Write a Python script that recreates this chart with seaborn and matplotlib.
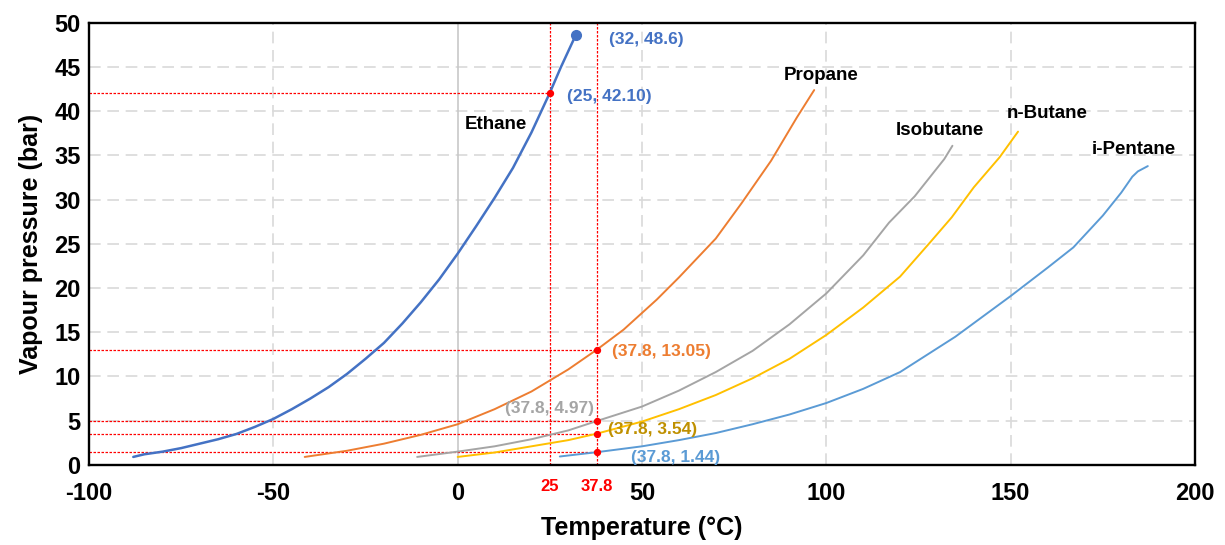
import numpy as np
import pandas as pd
import matplotlib
matplotlib.use("Agg")
import matplotlib.pyplot as plt
import seaborn as sns

# ---- data ----
ethane_t = [-88, -85, -80, -75, -70, -65, -60, -55, -50, -45, -40, -35, -30, -25, -20,
            -15, -10, -5, 0, 5, 10, 15, 20, 25, 28, 32]
ethane_p = [0.9, 1.2, 1.5, 1.9, 2.4, 2.9, 3.5, 4.3, 5.2, 6.3, 7.5, 8.8, 10.3, 12.0, 13.8,
            16.0, 18.4, 21.0, 23.9, 27.0, 30.2, 33.6, 37.6, 42.1, 45.0, 48.6]

propane_t = [-41.5, -30, -20, -10, 0, 10, 20, 30, 37.8, 45, 54, 60, 70, 77, 85, 92, 96.7]
propane_p = [0.9, 1.6, 2.4, 3.4, 4.6, 6.3, 8.3, 10.8, 13.05, 15.3, 18.7, 21.2, 25.6, 29.6, 34.4, 39.3, 42.4]

isobutane_t = [-11, 0, 10, 20, 30, 37.8, 50, 60, 70, 80, 90, 100, 110, 117, 124, 128, 132, 134.2]
isobutane_p = [0.9, 1.5, 2.1, 2.9, 3.9, 4.97, 6.6, 8.4, 10.5, 12.9, 15.9, 19.4, 23.7, 27.4, 30.4, 32.5, 34.6, 36.1]

nbutane_t = [0, 10, 20, 30, 37.8, 50, 60, 70, 80, 90, 100, 110, 120, 128, 134, 140, 147, 152]
nbutane_p = [0.9, 1.4, 2.1, 2.8, 3.54, 4.9, 6.3, 7.9, 9.8, 12.0, 14.7, 17.8, 21.3, 25.1, 28.0, 31.4, 34.8, 37.7]

ipentane_t = [27.7, 37.8, 50, 60, 70, 80, 90, 100, 110, 120, 135, 150, 160, 167, 175, 180, 183, 184.5, 187.2]
ipentane_p = [0.95, 1.44, 2.1, 2.8, 3.6, 4.6, 5.7, 7.0, 8.6, 10.5, 14.5, 19.1, 22.3, 24.6, 28.2, 30.8, 32.6, 33.2, 33.8]

series_names = ["Ethane", "Propane", "Isobutane", "n-Butane", "i-Pentane"]
series_colors = ["#4472C4", "#ED7D31", "#A5A5A5", "#FFC000", "#5B9BD5"]

crit_point = (32, 48.6)
mark_t = [25, 37.8, 37.8, 37.8, 37.8]
mark_p = [42.10, 13.05, 4.97, 3.54, 1.44]
mark_labels = ["(25, 42.10)", "(37.8, 13.05)", "(37.8, 4.97)", "(37.8, 3.54)", "(37.8, 1.44)"]
mark_colors = ["#4472C4", "#ED7D31", "#A5A5A5", "#BF9000", "#5B9BD5"]

x_ticks = [-100, -50, 0, 50, 100, 150, 200]
y_ticks = [0, 5, 10, 15, 20, 25, 30, 35, 40, 45, 50]

# ---- build long table ----
frames = []
for name, t, p in zip(series_names,
                      [ethane_t, propane_t, isobutane_t, nbutane_t, ipentane_t],
                      [ethane_p, propane_p, isobutane_p, nbutane_p, ipentane_p]):
    frames.append(pd.DataFrame({"T": t, "P": p, "fluid": name}))
df = pd.concat(frames, ignore_index=True)

sns.set_theme(style="white")
plt.rcParams["font.family"] = ["Liberation Sans", "DejaVu Sans"]
plt.rcParams["font.weight"] = "bold"
plt.rcParams["axes.unicode_minus"] = False
for k in ["text.color", "axes.labelcolor", "xtick.color", "ytick.color"]:
    plt.rcParams[k] = "black"

fig = plt.figure(figsize=(12.25, 5.45), dpi=100)
ax = fig.add_axes([0.0727, 0.147, 0.9028, 0.811])

# grid
for xv in [-50, 50, 100, 150]:
    ax.axvline(xv, color="#D9D9D9", lw=1.2, ls=(0, (7, 4)), zorder=0)
for yv in y_ticks[1:-1]:
    ax.axhline(yv, color="#D9D9D9", lw=1.2, ls=(0, (7, 4)), zorder=0)
ax.axvline(0, color="#C8C8C8", lw=1.2, zorder=0.5)

# curves
for name, col in zip(series_names, series_colors):
    sub = df[df.fluid == name]
    sns.lineplot(data=sub, x="T", y="P", sort=False, estimator=None, color=col,
                 lw=1.8 if name == "Ethane" else 1.4, ax=ax, zorder=3, legend=False)
for ln in ax.get_lines():
    ln.set_solid_joinstyle("round")

# critical point of ethane
ax.plot([crit_point[0]], [crit_point[1]], "o", color="#4472C4", ms=7, zorder=4)
ax.text(41, 48.1, f"({crit_point[0]}, {crit_point[1]})", color="#4472C4",
        fontsize=12.5, fontweight="bold", va="center", ha="left")

# red reference lines
red = "#FF0000"
for xv in [25, 37.8]:
    ax.axvline(xv, color=red, lw=0.9, ls=(0, (2, 1.2)), zorder=2)
for xv, yv in zip(mark_t, mark_p):
    ax.plot([-100, xv], [yv, yv], color=red, lw=0.9, ls=(0, (2, 1.2)), zorder=2)
ax.scatter(mark_t, mark_p, color=red, s=18, zorder=5)

# annotation texts
ann_pos = [(29.6, 41.7, "left"), (41.8, 12.8, "left"), (37.0, 6.4, "right"),
           (40.8, 3.95, "left"), (47.0, 0.85, "left")]
for (tx, ty, ha), lab, c in zip(ann_pos, mark_labels, mark_colors):
    ax.text(tx, ty, lab, color=c, fontsize=12.5, fontweight="bold", va="center", ha=ha, zorder=6)

# series labels
label_pos = [(10.3, 38.5), (98.6, 44.0), (130.7, 37.8), (159.8, 39.7), (183.4, 35.7)]
for (tx, ty), name in zip(label_pos, series_names):
    ax.text(tx, ty, name, color="black", fontsize=13.5, fontweight="bold", ha="center", va="center")

ax.set_xlim(-100, 200)
ax.set_ylim(0, 50)
ax.set_xticks(x_ticks)
ax.set_yticks(y_ticks)
ax.tick_params(axis="x", length=0, labelsize=17, pad=12)
ax.tick_params(axis="y", length=0, labelsize=17, pad=6)
for lab in ax.get_xticklabels() + ax.get_yticklabels():
    lab.set_fontweight("bold")
ax.set_xlabel("Temperature (°C)", fontsize=18, fontweight="bold", labelpad=8)
ax.set_ylabel("Vapour pressure (bar)", fontsize=18, fontweight="bold", labelpad=8)
for s in ax.spines.values():
    s.set_visible(True)
    s.set_color("black")
    s.set_linewidth(1.7)

# red extra tick labels
for xv, lab in zip([25, 37.8], ["25", "37.8"]):
    ax.text(xv, -2.5, lab, color=red, fontsize=12, fontweight="bold", ha="center", va="center")

fig.savefig("out.png", dpi=100)
